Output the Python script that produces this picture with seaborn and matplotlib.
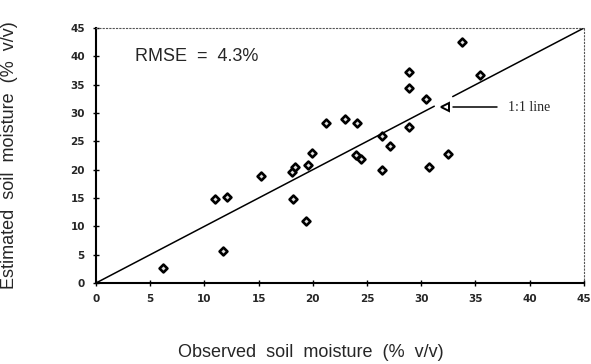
import numpy as np
import pandas as pd
import matplotlib
matplotlib.use('Agg')
import matplotlib.pyplot as plt
import seaborn as sns

# Observed vs estimated soil moisture (% v/v)
observed = [6.2, 11.0, 12.1, 11.7, 15.2, 18.2, 18.1, 18.4, 19.6, 19.9, 19.4,
            21.2, 23.0, 24.1, 24.0, 24.4, 26.4, 26.4, 27.1, 28.9, 28.9, 28.9,
            30.4, 30.7, 32.5, 33.8, 35.4]
estimated = [2.6, 14.8, 15.2, 5.6, 18.9, 14.9, 19.6, 20.4, 20.8, 23.0, 11.0,
             28.2, 28.9, 28.2, 22.6, 21.8, 19.9, 26.0, 24.1, 37.2, 34.5, 27.5,
             32.4, 20.4, 22.8, 42.5, 36.7]

# 1:1 line, broken where the label arrow points at it
line_low = [0, 31.2]
line_high = [32.9, 45]
ticks = [0, 5, 10, 15, 20, 25, 30, 35, 40, 45]
rmse_text = 'RMSE  =  4.3%'

df = pd.DataFrame({'Observed': observed, 'Estimated': estimated})

sns.set_theme(style='white')
plt.rcParams['font.family'] = ['Liberation Sans', 'DejaVu Sans']

fig = plt.figure(figsize=(5.91, 3.64), dpi=100)
ax = fig.add_axes([0.1624, 0.2225, 0.8256, 0.7005])

ax.plot(line_low, line_low, color='black', lw=1.1)
ax.plot(line_high, line_high, color='black', lw=1.1)

sns.scatterplot(data=df, x='Observed', y='Estimated', ax=ax, marker='D', s=16,
                facecolor='#dddddd', edgecolor='black', linewidth=1.9, zorder=3)

# label for the 1:1 line
ax.plot([32.2], [31.0], marker='<', ms=6, mfc='white', mec='black', mew=1.4)
ax.plot([32.9, 37.0], [31.0, 31.0], color='black', lw=1.1)
ax.text(38.0, 31.0, '1:1 line', family='Liberation Serif', fontsize=10,
        va='center', ha='left')

ax.text(3.6, 40.0, rmse_text, fontsize=13, va='center', ha='left')

ax.set_xlim(0, 45)
ax.set_ylim(0, 45)
ax.set_xticks(ticks)
ax.set_yticks(ticks)
narrow = ['Liberation Sans Narrow', 'DejaVu Sans']
ax.set_xticklabels(ticks, fontsize=7.5, fontweight='bold', family=narrow)
ax.set_yticklabels(ticks, fontsize=7.5, fontweight='bold', family=narrow)
ax.tick_params(axis='both', direction='inout', length=4, width=1, color='black',
               bottom=True, left=True, pad=6)

for side in ['left', 'bottom']:
    ax.spines[side].set_color('black')
    ax.spines[side].set_linewidth(1.5)
for side in ['top', 'right']:
    ax.spines[side].set_color('#555555')
    ax.spines[side].set_linewidth(0.8)
    ax.spines[side].set_linestyle((0, (1, 2)))

ax.set_xlabel('Observed  soil  moisture  (%  v/v)', fontsize=13)
ax.set_ylabel('Estimated  soil  moisture  (%  v/v)', fontsize=13)
ax.xaxis.set_label_coords(0.44, -0.24)
ax.yaxis.set_label_coords(-0.16, 0.5)

fig.savefig('out.png', dpi=100, facecolor='white')
